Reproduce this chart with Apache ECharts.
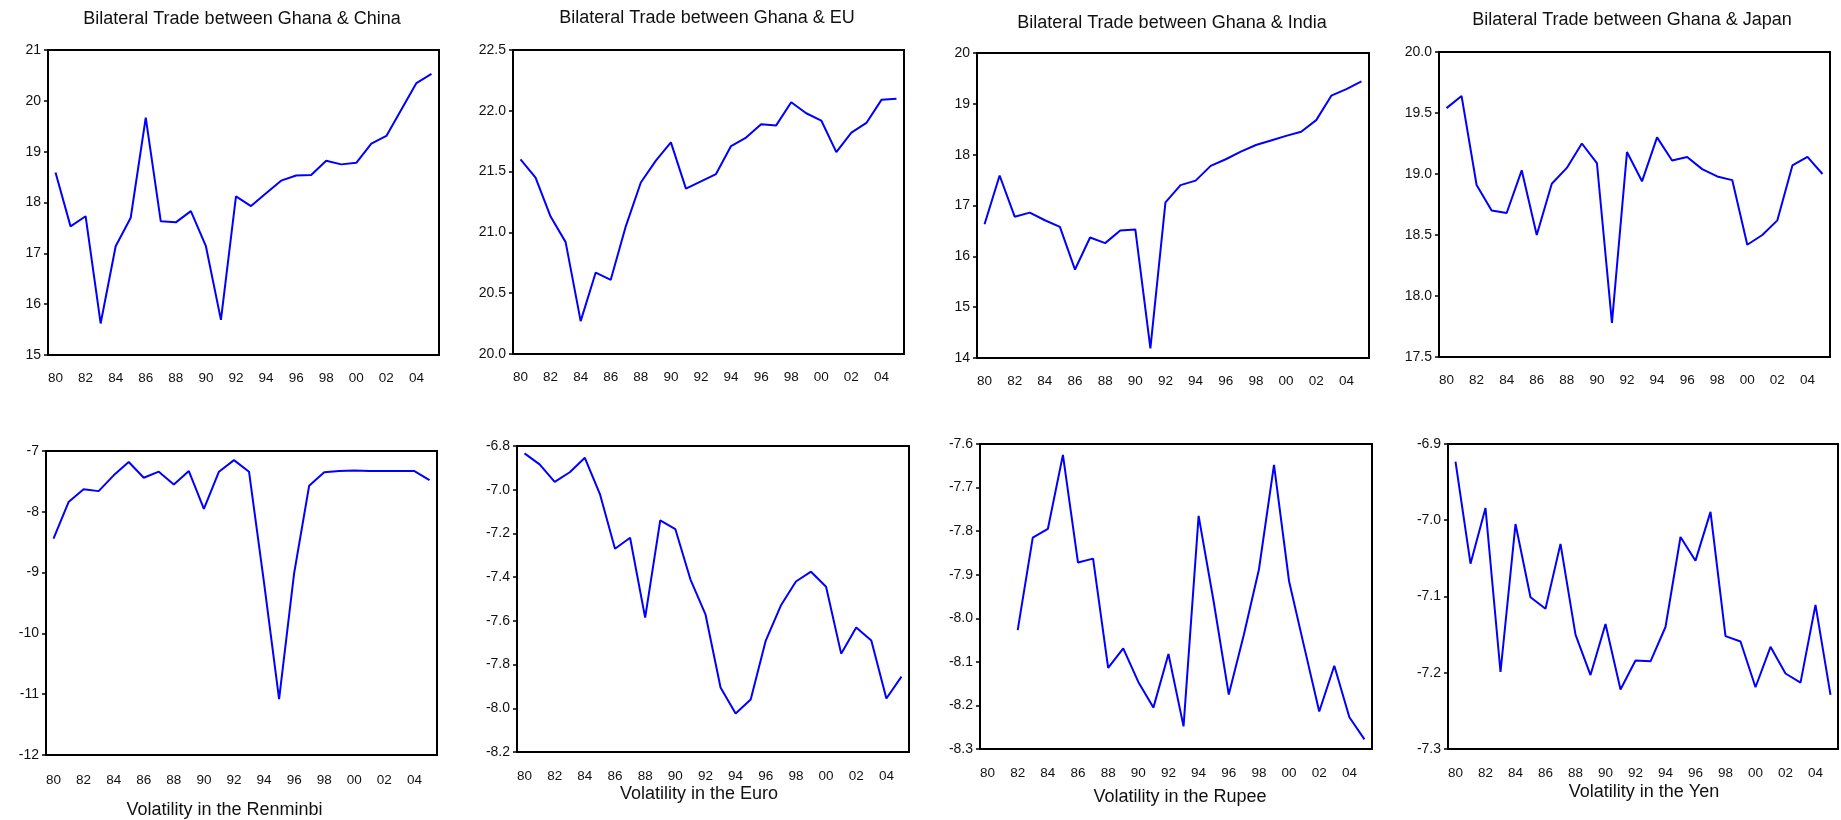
<!DOCTYPE html>
<html>
<head>
<meta charset="utf-8">
<title>Ghana bilateral trade and exchange rate volatility</title>
<script src="https://cdn.jsdelivr.net/npm/echarts@6/dist/echarts.min.js"></script>
<style>
html, body { margin: 0; padding: 0; background: #fff; }
#main { width: 1841px; height: 820px; }
</style>
</head>
<body>
<div id="main"></div>
<script>
var years = ['80', '81', '82', '83', '84', '85', '86', '87', '88', '89', '90', '91', '92',
	'93', '94', '95', '96', '97', '98', '99', '00', '01', '02', '03', '04', '05'];

// log of bilateral trade
var chinaTrade = [18.59, 17.53, 17.73, 15.62, 17.14, 17.70, 19.67, 17.63, 17.61, 17.83, 17.14, 15.69, 18.12,
	17.93, 18.18, 18.43, 18.53, 18.54, 18.82, 18.75, 18.78, 19.16, 19.31, 19.83, 20.35, 20.53];
var euTrade = [21.60, 21.45, 21.13, 20.92, 20.27, 20.67, 20.61, 21.05, 21.41, 21.59, 21.74, 21.36, 21.42,
	21.48, 21.71, 21.78, 21.89, 21.88, 22.07, 21.98, 21.92, 21.66, 21.82, 21.90, 22.09, 22.10];
var indiaTrade = [16.63, 17.59, 16.78, 16.86, 16.71, 16.58, 15.74, 16.37, 16.26, 16.51, 16.53, 14.19, 17.06,
	17.40, 17.49, 17.78, 17.91, 18.06, 18.19, 18.28, 18.37, 18.45, 18.68, 19.16, 19.29, 19.44];
var japanTrade = [19.54, 19.64, 18.91, 18.70, 18.68, 19.03, 18.50, 18.92, 19.05, 19.25, 19.09, 17.78, 19.18,
	18.94, 19.30, 19.11, 19.14, 19.04, 18.98, 18.95, 18.42, 18.50, 18.62, 19.07, 19.14, 19.00];

// log volatility of the exchange rate
var renminbiVol = [-8.44, -7.84, -7.63, -7.66, -7.40, -7.18, -7.44, -7.34, -7.55, -7.33, -7.95, -7.34, -7.15,
	-7.34, -9.17, -11.08, -9.01, -7.57, -7.35, -7.33, -7.32, -7.33, -7.33, -7.33, -7.33, -7.48];
var euroVol = [-6.834, -6.884, -6.964, -6.920, -6.854, -7.020, -7.270, -7.220, -7.585, -7.140, -7.180, -7.410, -7.570,
	-7.905, -8.024, -7.960, -7.690, -7.530, -7.420, -7.375, -7.444, -7.750, -7.630, -7.690, -7.955, -7.855];
var rupeeVol = [null, null, -8.027, -7.815, -7.795, -7.625, -7.872, -7.863, -8.114, -8.069, -8.146, -8.205, -8.082,
	-8.248, -7.765, -7.962, -8.175, -8.038, -7.888, -7.648, -7.915, -8.065, -8.214, -8.109, -8.227, -8.278];
var yenVol = [-6.923, -7.057, -6.984, -7.199, -7.005, -7.101, -7.116, -7.031, -7.150, -7.203, -7.136, -7.222, -7.184,
	-7.185, -7.140, -7.022, -7.053, -6.989, -7.152, -7.159, -7.219, -7.166, -7.201, -7.213, -7.111, -7.229];

// y axis tick labels
var chinaTicks = [15, 16, 17, 18, 19, 20, 21];
var euTicks = [20.0, 20.5, 21.0, 21.5, 22.0, 22.5];
var indiaTicks = [14, 15, 16, 17, 18, 19, 20];
var japanTicks = [17.5, 18.0, 18.5, 19.0, 19.5, 20.0];
var renminbiTicks = [-12, -11, -10, -9, -8, -7];
var euroTicks = [-8.2, -8.0, -7.8, -7.6, -7.4, -7.2, -7.0, -6.8];
var rupeeTicks = [-8.3, -8.2, -8.1, -8.0, -7.9, -7.8, -7.7, -7.6];
var yenTicks = [-7.3, -7.2, -7.1, -7.0, -6.9];

var FONT = "'Liberation Sans', Arial, sans-serif";

var panels = [
	{ title: 'Bilateral Trade between Ghana & China', data: chinaTrade, ticks: chinaTicks, dec: 0,
		box: [48, 50, 391, 305], tx: 242, ty: 10, lm: 16 },
	{ title: 'Bilateral Trade between Ghana & EU', data: euTrade, ticks: euTicks, dec: 1,
		box: [513, 50, 391, 304], tx: 707, ty: 9, lm: 16 },
	{ title: 'Bilateral Trade between Ghana & India', data: indiaTrade, ticks: indiaTicks, dec: 0,
		box: [977, 53, 392, 305], tx: 1172, ty: 14, lm: 16 },
	{ title: 'Bilateral Trade between Ghana & Japan', data: japanTrade, ticks: japanTicks, dec: 1,
		box: [1439, 52, 391, 305], tx: 1632, ty: 11, lm: 16 },
	{ name: 'Volatility in the Renminbi', data: renminbiVol, ticks: renminbiTicks, dec: 0,
		box: [46, 451, 391, 305], gap: 46, shift: -17, lm: 18 },
	{ name: 'Volatility in the Euro', data: euroVol, ticks: euroTicks, dec: 1,
		box: [517, 446, 392, 306], gap: 33, shift: -14, lm: 17 },
	{ name: 'Volatility in the Rupee', data: rupeeVol, ticks: rupeeTicks, dec: 1,
		box: [980, 444, 392, 305], gap: 39, shift: 4, lm: 17 },
	{ name: 'Volatility in the Yen', data: yenVol, ticks: yenTicks, dec: 1,
		box: [1448, 444, 390, 305], gap: 34, shift: 1, lm: 17 }
];

function buildOption() {
	var option = {
		backgroundColor: '#fff',
		animation: false,
		title: [],
		grid: [],
		xAxis: [],
		yAxis: [],
		series: []
	};
	panels.forEach(function (p, i) {
		var t = p.ticks;
		var step = Math.round((t[1] - t[0]) * 1000) / 1000;
		if (p.title) {
			option.title.push({
				text: p.title,
				left: p.tx,
				top: p.ty,
				padding: 0,
				textAlign: 'center',
				textStyle: { fontFamily: FONT, fontSize: 18, fontWeight: 'normal', color: '#111' }
			});
		}
		option.grid.push({
			left: p.box[0], top: p.box[1], width: p.box[2], height: p.box[3],
			show: true, borderColor: '#000', borderWidth: 2, backgroundColor: '#fff'
		});
		var xa = {
			gridIndex: i,
			type: 'category',
			data: years,
			boundaryGap: true,
			axisLine: { lineStyle: { color: '#000', width: 2 } },
			axisTick: { interval: 0, length: 7, lineStyle: { color: '#000', width: 1.5 } },
			axisLabel: { interval: 1, color: '#111', fontSize: 13.5, fontFamily: FONT, margin: p.lm },
			splitLine: { show: false }
		};
		if (p.name) {
			xa.name = p.name;
			xa.nameLocation = 'middle';
			xa.nameGap = p.gap;
			xa.nameTextStyle = {
				fontFamily: FONT, fontSize: 18, color: '#111',
				padding: p.shift < 0 ? [0, -2 * p.shift, 0, 0] : [0, 0, 0, 2 * p.shift]
			};
		}
		option.xAxis.push(xa);
		option.yAxis.push({
			gridIndex: i,
			type: 'value',
			min: t[0],
			max: t[t.length - 1],
			interval: step,
			axisLine: { show: true, lineStyle: { color: '#000', width: 2 } },
			axisTick: { show: true, length: 4, lineStyle: { color: '#000', width: 1.5 } },
			axisLabel: {
				color: '#111', fontSize: 14, fontFamily: FONT, margin: 7,
				formatter: function (v) { return v.toFixed(p.dec); }
			},
			splitLine: { show: false }
		});
		option.series.push({
			type: 'line',
			xAxisIndex: i,
			yAxisIndex: i,
			data: p.data,
			symbol: 'none',
			connectNulls: false,
			lineStyle: { color: '#0000ff', width: 2 },
			itemStyle: { color: '#0000ff' }
		});
	});
	return option;
}

var chart = echarts.init(document.getElementById('main'));
chart.setOption(buildOption());
window.addEventListener('resize', function () {
	chart.resize();
});
</script>
</body>
</html>
